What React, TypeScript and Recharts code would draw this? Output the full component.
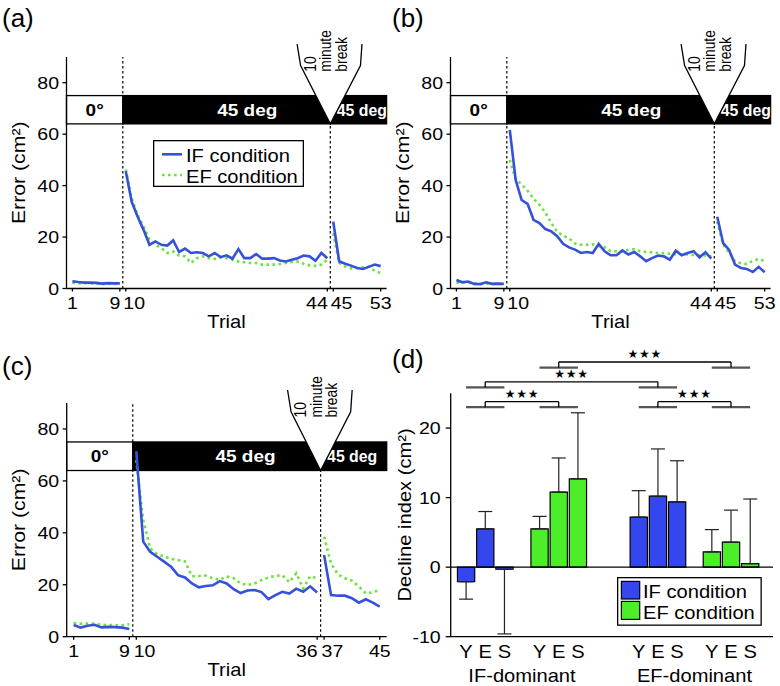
import React from 'react';
import {
  LineChart,
  Line,
  ComposedChart,
  Bar,
  Cell,
  ErrorBar,
  XAxis,
  YAxis,
  ReferenceLine,
  ReferenceArea,
  ReferenceDot,
} from 'recharts';

const FONT = '"Liberation Sans", Arial, Helvetica, sans-serif';
const WIDE = 1.15;
const IF_LINE = '#3551d9';
const EF_LINE = '#68e43a';
const IF_BAR = '#3447ee';
const EF_BAR = '#4cee2a';
const AX = { stroke: '#000', strokeWidth: 1.3 };

// ---- panel (a): error per trial ----
const aIfBase = [2.8, 2.5, 2.3, 2.3, 2.2, 1.9, 2.1, 2.0, 2.0];
const aEfBase = [2.2, 2.0, 2.1, 2.0, 2.0, 1.7, 1.9, 1.8, 1.8];
const aIfAdapt = [45.6, 33.7, 27.9, 22.8, 17.0, 18.3, 17.0, 16.7, 18.7, 14.2, 15.5, 13.8, 14.1, 13.8, 12.5, 13.8, 12.2, 12.9, 11.6, 15.3, 11.8, 11.8, 13.4, 11.6, 11.6, 11.8, 10.9, 10.5, 11.2, 11.8, 12.8, 12.5, 10.8, 13.8, 11.8];
const aEfAdapt = [46.3, 35.0, 28.6, 24.1, 19.0, 17.0, 15.7, 13.8, 14.4, 12.8, 12.5, 9.9, 11.8, 12.5, 11.8, 11.5, 12.1, 11.8, 11.2, 10.5, 10.2, 9.9, 9.9, 9.3, 9.3, 9.3, 9.5, 9.9, 10.3, 10.5, 9.6, 9.0, 8.8, 9.3, 11.2];
const aIfPost = [26.0, 10.6, 9.6, 8.9, 8.0, 7.6, 8.4, 9.3, 8.7];
const aEfPost = [21.5, 10.0, 8.5, 7.8, 8.0, 8.2, 8.6, 6.8, 6.0];

// ---- panel (b) ----
const bIfBase = [3.3, 2.4, 2.7, 1.8, 1.7, 2.4, 1.8, 1.9, 1.8];
const bEfBase = [2.2, 2.5, 2.3, 1.8, 1.8, 2.0, 1.8, 1.8, 1.7];
const bIfAdapt = [61.7, 42.1, 34.4, 32.9, 26.7, 25.4, 23.1, 22.2, 20.3, 17.4, 16.0, 15.1, 13.8, 14.2, 13.8, 17.3, 14.5, 12.9, 12.9, 14.8, 13.2, 14.2, 12.5, 10.6, 11.8, 12.8, 12.5, 11.2, 14.7, 12.9, 13.8, 14.5, 12.1, 14.1, 11.6];
const bEfAdapt = [50.0, 42.5, 40.5, 38.0, 35.0, 32.5, 29.5, 25.5, 22.0, 20.5, 19.5, 17.5, 17.0, 17.0, 17.2, 16.5, 16.0, 14.5, 14.5, 14.5, 15.0, 15.3, 14.5, 14.2, 14.0, 13.8, 13.8, 13.5, 13.3, 13.3, 13.2, 13.0, 13.0, 12.8, 12.5];
const bIfPost = [27.9, 17.6, 15.0, 9.3, 8.0, 7.6, 6.4, 8.4, 6.3];
const bEfPost = [26.0, 17.0, 14.0, 10.5, 9.8, 9.5, 10.8, 11.5, 10.6];

// ---- panel (c) ----
const cIfBase = [4.5, 3.5, 4.2, 4.6, 3.6, 3.8, 3.7, 3.5, 3.0];
const cEfBase = [5.3, 5.0, 5.1, 5.0, 4.6, 4.5, 4.4, 4.4, 4.8];
const cIfAdapt = [71.5, 36.6, 32.7, 30.8, 28.9, 27.0, 23.7, 22.8, 20.5, 19.0, 19.5, 19.8, 21.4, 20.5, 18.3, 16.8, 17.8, 18.0, 17.2, 14.5, 16.0, 17.3, 16.6, 18.5, 17.3, 19.4, 17.0];
const cEfAdapt = [68.0, 45.0, 34.0, 31.8, 30.8, 30.0, 29.5, 29.0, 23.3, 23.4, 23.5, 22.5, 21.9, 23.2, 22.5, 20.5, 19.9, 20.5, 21.8, 22.8, 23.4, 23.7, 21.0, 24.4, 18.6, 23.3, 22.5];
const cIfPost = [31.5, 16.0, 15.8, 15.8, 14.8, 13.1, 14.4, 13.1, 11.6];
const cEfPost = [38.5, 28.2, 24.0, 22.5, 21.6, 19.3, 16.7, 17.1, 18.0];

// ---- panel (d): decline index ----
const ages = ['Y', 'E', 'S'];
const ifDomIF = [-2.1, 5.5, -0.3];
const ifDomIFErr = [2.5, 2.5, 9.3];
const ifDomEF = [5.5, 10.8, 12.7];
const ifDomEFErr = [1.8, 4.9, 9.5];
const efDomIF = [7.2, 10.2, 9.4];
const efDomIFErr = [3.8, 6.8, 5.9];
const efDomEF = [2.2, 3.6, 0.5];
const efDomEFErr = [3.2, 4.6, 9.3];
const groupNames = ['IF-dominant', 'EF-dominant'];
// [cluster A, cluster B, bracket level]
const sigTests = [[0, 1, 0], [2, 3, 0], [0, 2, 1], [1, 3, 2]];
const sigLabel = '★★★';

const phaseLabels = ['0°', '45 deg'];
const breakLines = ['10', 'minute', 'break'];

function buildRows(ifB, efB, ifA, efA, ifP, efP) {
  const rows: any[] = [];
  const push = (ifs: number[], efs: number[], start: number) =>
    ifs.forEach((v, i) => rows.push({ trial: start + i, IF: v, EF: efs[i] }));
  push(ifB, efB, 1);
  rows.push({ trial: ifB.length + 0.5, IF: null, EF: null });
  push(ifA, efA, ifB.length + 1);
  const s = ifB.length + ifA.length;
  rows.push({ trial: s + 0.5, IF: null, EF: null });
  push(ifP, efP, s + 1);
  return rows;
}

// bar rows: cluster layout on a numeric axis measured in bar widths
const clusterStart = [0.8, 4.63, 9.8, 13.61];
const clusterSets = [
  [ifDomIF, ifDomIFErr, IF_BAR],
  [ifDomEF, ifDomEFErr, EF_BAR],
  [efDomIF, efDomIFErr, IF_BAR],
  [efDomEF, efDomEFErr, EF_BAR],
] as const;
const barRows = clusterSets.flatMap(([means, errs, color], ci) =>
  (means as number[]).map((m, i) => ({
    pos: clusterStart[ci] + i,
    age: ages[i],
    value: m,
    err: m < 0 ? [errs[i], 0] : [0, errs[i]],
    color,
  }))
);

function SText({ x, y, children, anchor = 'start', size = 17, weight = 'normal', fill = '#000', rotate = false, sx = WIDE }: any) {
  const tf = `translate(${x} ${y})${rotate ? ' rotate(-90)' : ''} scale(${sx} 1)`;
  return (
    <text transform={tf} x={0} y={0} textAnchor={anchor} fontSize={size} fontWeight={weight} fill={fill} fontFamily={FONT}>
      {children}
    </text>
  );
}

const YTick = ({ x, y, payload }: any) => (
  <SText x={x} y={y + 6.1} anchor="end">{payload.value}</SText>
);

function PhaseRect({ x, y, width, height, boxFill, txt, txtFill, frac, startPad, sx }: any) {
  const tx = startPad != null ? x + startPad : x + width * frac;
  return (
    <g>
      <rect x={x} y={y} width={width} height={height} fill={boxFill} stroke="#000" strokeWidth={1.3} />
      <SText
        x={tx}
        y={y + height / 2 + 6.2}
        anchor={startPad != null ? 'start' : 'middle'}
        size={16.5}
        weight="bold"
        fill={txtFill}
        sx={sx ?? WIDE}
      >
        {txt}
      </SText>
    </g>
  );
}

function BreakShape({ x, y, width, height }: any) {
  const mid = x + width / 2;
  const bend = y + height * 0.27;
  const bot = y + height;
  const pts = `${x},${y} ${x + 3.5},${bend} ${mid},${bot} ${x + width - 3},${bend} ${x + width - 1.5},${y}`;
  const ty = y + 27.5;
  return (
    <g>
      <polygon points={pts} fill="#fff" stroke="none" />
      <polyline points={pts} fill="none" stroke="#000" strokeWidth={1.3} />
      {breakLines.map((t, i) => (
        <SText key={t} x={mid - 14.5 + i * 15.5} y={ty} rotate sx={0.84} size={16.5}>
          {t}
        </SText>
      ))}
    </g>
  );
}

const ErrorLabel = ({ viewBox }: any) => (
  <SText x={viewBox.x + 18.5} y={viewBox.y + viewBox.height / 2} anchor="middle" rotate size={18.5}>
    Error (cm²)
  </SText>
);

const TrialLabel = ({ viewBox }: any) => (
  <SText x={viewBox.x + viewBox.width / 2} y={viewBox.y + 39} anchor="middle" size={17.5}>
    Trial
  </SText>
);

function TrialPanel({ cfg }: any) {
  const { rows, width, height, margin, xMax, breakAt, ticks, endTicks, startTicks, halfW } = cfg;
  const TrialTick = ({ x, y, payload }: any) => {
    const v = payload.value;
    let anchor = 'middle';
    let dx = 0;
    if (endTicks.includes(v)) {
      anchor = 'end';
      dx = 0.5;
    } else if (startTicks.includes(v)) {
      anchor = 'start';
      dx = -2.5;
    }
    return <SText x={x + dx} y={y + 15.5} anchor={anchor}>{v}</SText>;
  };
  return (
    <LineChart width={width} height={height} data={rows} margin={margin}>
      <XAxis
        dataKey="trial"
        type="number"
        domain={[0, xMax]}
        ticks={ticks}
        interval={0}
        height={30}
        axisLine={AX}
        tickLine={AX}
        tickSize={3}
        tick={TrialTick}
        label={TrialLabel}
      />
      <YAxis
        type="number"
        domain={[0, 90]}
        ticks={[0, 20, 40, 60, 80]}
        width={60}
        axisLine={AX}
        tickLine={AX}
        tickSize={4}
        tickMargin={3.5}
        tick={YTick}
        label={ErrorLabel}
      />
      <ReferenceLine x={9.5} stroke="#000" strokeWidth={1.2} strokeDasharray="2.5 2.5" ifOverflow="visible" />
      <ReferenceLine
        segment={[{ x: breakAt, y: 0 }, { x: breakAt, y: 64 }]}
        stroke="#000"
        strokeWidth={1.2}
        strokeDasharray="2.5 2.5"
        ifOverflow="visible"
      />
      <ReferenceArea
        x1={0}
        x2={9.5}
        y1={64}
        y2={75}
        ifOverflow="visible"
        shape={(p: any) => <PhaseRect {...p} boxFill="#fff" txt={phaseLabels[0]} txtFill="#000" frac={0.5} />}
      />
      <ReferenceArea
        x1={9.5}
        x2={breakAt}
        y1={64}
        y2={75}
        ifOverflow="visible"
        shape={(p: any) => <PhaseRect {...p} boxFill="#000" txt={phaseLabels[1]} txtFill="#fff" frac={0.6} />}
      />
      <ReferenceArea
        x1={breakAt}
        x2={xMax}
        y1={64}
        y2={75}
        ifOverflow="visible"
        shape={(p: any) => (
          <PhaseRect {...p} boxFill="#000" txt={phaseLabels[1]} txtFill="#fff" startPad={6.5} sx={0.96} />
        )}
      />
      <ReferenceArea
        x1={breakAt - halfW}
        x2={breakAt + halfW}
        y1={64}
        y2={95}
        ifOverflow="visible"
        shape={BreakShape}
      />
      <Line
        dataKey="EF"
        type="linear"
        stroke={EF_LINE}
        strokeWidth={2.6}
        strokeDasharray="2.6 3.4"
        dot={false}
        activeDot={false}
        isAnimationActive={false}
      />
      <Line
        dataKey="IF"
        type="linear"
        stroke={IF_LINE}
        strokeWidth={2.6}
        dot={false}
        activeDot={false}
        isAnimationActive={false}
      />
    </LineChart>
  );
}

const panelA = {
  rows: buildRows(aIfBase, aEfBase, aIfAdapt, aEfAdapt, aIfPost, aEfPost),
  width: 400,
  height: 345,
  margin: { top: 57, right: 13.4, bottom: 26.5, left: 6.5 },
  xMax: 54,
  breakAt: 44.5,
  ticks: [1, 9, 10, 44, 45, 53],
  endTicks: [9, 44],
  startTicks: [10, 45],
  halfW: 5.6,
};
const panelB = {
  ...panelA,
  rows: buildRows(bIfBase, bEfBase, bIfAdapt, bEfAdapt, bIfPost, bEfPost),
};
const panelC = {
  rows: buildRows(cIfBase, cEfBase, cIfAdapt, cEfAdapt, cIfPost, cEfPost),
  width: 400,
  height: 356,
  margin: { top: 73, right: 13.3, bottom: 19.3, left: 6.7 },
  xMax: 46,
  breakAt: 36.5,
  ticks: [1, 9, 10, 36, 37, 45],
  endTicks: [9, 36],
  startTicks: [10, 37],
  halfW: 4.75,
};

const AgeTick = ({ x, y, payload }: any) => {
  const r = barRows.find((b) => Math.abs(b.pos - payload.value) < 1e-6);
  return <SText x={x} y={y + 21.3} anchor="middle" size={17.5}>{r ? r.age : ''}</SText>;
};

const DeclineLabel = ({ viewBox }: any) => (
  <SText x={viewBox.x + 20.3} y={viewBox.y + viewBox.height / 2} anchor="middle" rotate size={17.5}>
    Decline index (cm²)
  </SText>
);

function DeclinePanel() {
  const lines: any[] = [];
  sigTests.forEach(([ca, cb, lvl], k) => {
    const a = clusterStart[ca];
    const b = clusterStart[cb];
    const seg = 23.0 + lvl * 2.85;
    const br = seg + 0.8;
    const grey = { stroke: '#555', strokeWidth: 2.2, ifOverflow: 'visible' as const };
    const blk = { stroke: '#000', strokeWidth: 1.3, ifOverflow: 'visible' as const };
    lines.push(<ReferenceLine key={`s1${k}`} segment={[{ x: a, y: seg }, { x: a + 2, y: seg }]} {...grey} />);
    lines.push(<ReferenceLine key={`s2${k}`} segment={[{ x: b, y: seg }, { x: b + 2, y: seg }]} {...grey} />);
    lines.push(<ReferenceLine key={`l1${k}`} segment={[{ x: a + 1, y: seg }, { x: a + 1, y: br }]} {...blk} />);
    lines.push(<ReferenceLine key={`t${k}`} segment={[{ x: a + 1, y: br }, { x: b + 1, y: br }]} {...blk} />);
    lines.push(<ReferenceLine key={`l2${k}`} segment={[{ x: b + 1, y: br }, { x: b + 1, y: seg }]} {...blk} />);
    lines.push(
      <ReferenceDot
        key={`st${k}`}
        x={(a + b) / 2 + 1}
        y={br}
        r={0}
        ifOverflow="visible"
        shape={(p: any) => (
          <text x={p.cx} y={p.cy - 4} textAnchor="middle" fontSize={12} letterSpacing={0.8} fill="#000" fontFamily="DejaVu Sans">
            {sigLabel}
          </text>
        )}
      />
    );
  });
  return (
    <ComposedChart width={390} height={356} data={barRows} margin={{ top: 63.3, right: 7, bottom: 19.3, left: 0.7 }}>
      <XAxis
        dataKey="pos"
        type="number"
        domain={[0, 16.8]}
        ticks={barRows.map((r) => r.pos)}
        interval={0}
        height={30}
        axisLine={AX}
        tickLine={false}
        tickSize={0}
        tickMargin={0}
        tick={AgeTick}
      />
      <YAxis
        type="number"
        domain={[-10, 25]}
        ticks={[-10, 0, 10, 20]}
        width={60}
        axisLine={AX}
        tickLine={AX}
        tickSize={5}
        tickMargin={5}
        tick={YTick}
        label={DeclineLabel}
      />
      <ReferenceLine y={0} stroke="#000" strokeWidth={1.3} />
      <Bar dataKey="value" barSize={19.2} stroke="#000" strokeWidth={1.2} isAnimationActive={false}>
        {barRows.map((r, i) => (
          <Cell key={i} fill={r.color} />
        ))}
        <ErrorBar dataKey="err" direction="y" width={7} stroke="#222" strokeWidth={1.2} />
      </Bar>
      {lines}
      {groupNames.map((g, gi) => (
        <ReferenceDot
          key={g}
          x={(clusterStart[gi * 2] + clusterStart[gi * 2 + 1]) / 2 + 1}
          y={-10}
          r={0}
          ifOverflow="visible"
          shape={(p: any) => (
            <SText x={p.cx} y={p.cy + 45} anchor="middle" size={17.5}>
              {g}
            </SText>
          )}
        />
      ))}
    </ComposedChart>
  );
}

function LineLegend() {
  return (
    <svg width={151} height={47} style={{ position: 'absolute', left: 152.7, top: 140 }}>
      <rect x={0.65} y={0.65} width={149.7} height={45.7} fill="#fff" stroke="#000" strokeWidth={1.3} />
      <line x1={9} x2={29} y1={14.3} y2={14.3} stroke={IF_LINE} strokeWidth={2.6} />
      <SText x={33} y={21.5} size={17.5}>IF condition</SText>
      <line x1={9} x2={29} y1={35} y2={35} stroke={EF_LINE} strokeWidth={2.6} strokeDasharray="2.6 3.4" />
      <SText x={33} y={42.5} size={17.5}>EF condition</SText>
    </svg>
  );
}

function BarLegend() {
  return (
    <svg width={145} height={49} style={{ position: 'absolute', left: 617.3, top: 577.3 }}>
      <rect x={0.65} y={0.65} width={143.5} height={47.5} fill="#fff" stroke="#000" strokeWidth={1.3} />
      <rect x={4.4} y={4.4} width={18.3} height={17.6} fill={IF_BAR} stroke="#000" strokeWidth={1.2} />
      <SText x={26} y={21} size={17.5}>IF condition</SText>
      <rect x={4.4} y={24.4} width={18.3} height={18} fill={EF_BAR} stroke="#000" strokeWidth={1.2} />
      <SText x={26} y={42} size={17.5}>EF condition</SText>
    </svg>
  );
}

export default function App() {
  const box = (left: number, top: number) => ({ position: 'absolute' as const, left, top });
  return (
    <div style={{ position: 'absolute', left: 0, top: 0, width: 780, height: 686, background: '#fff', overflow: 'hidden' }}>
      <div style={box(0, 330)}>
        <TrialPanel cfg={panelC} />
      </div>
      <div style={box(390, 330)}>
        <DeclinePanel />
      </div>
      <div style={box(0, 0)}>
        <TrialPanel cfg={panelA} />
      </div>
      <div style={box(383.5, 0)}>
        <TrialPanel cfg={panelB} />
      </div>
      <LineLegend />
      <BarLegend />
      <svg width={780} height={686} style={{ position: 'absolute', left: 0, top: 0, pointerEvents: 'none' }}>
        <text x={2} y={27} fontSize={26} fontFamily={FONT}>(a)</text>
        <text x={392} y={27} fontSize={26} fontFamily={FONT}>(b)</text>
        <text x={2} y={375} fontSize={26} fontFamily={FONT}>(c)</text>
        <text x={392} y={368} fontSize={26} fontFamily={FONT}>(d)</text>
      </svg>
    </div>
  );
}
